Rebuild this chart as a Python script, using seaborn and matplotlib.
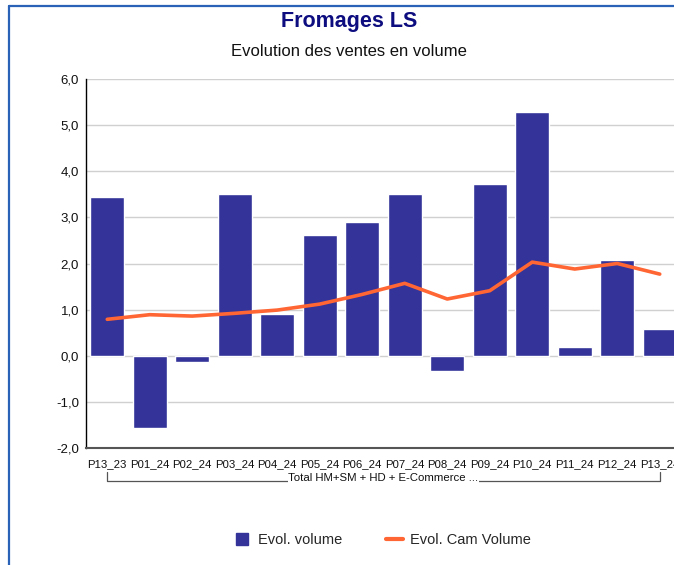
import matplotlib
matplotlib.use("Agg")
import matplotlib.pyplot as plt
import matplotlib.ticker as mtick
from matplotlib.lines import Line2D
import pandas as pd
import seaborn as sns

sns.set_theme(style="white")
plt.rcParams["font.family"] = ["Liberation Sans", "DejaVu Sans"]

# ── Data ──────────────────────────────────────────────────────────────────────
periods = ["P13_23", "P01_24", "P02_24", "P03_24", "P04_24", "P05_24", "P06_24",
           "P07_24", "P08_24", "P09_24", "P10_24", "P11_24", "P12_24", "P13_24"]
evol_volume = [3.44, -1.57, -0.14, 3.51, 0.91, 2.62, 2.89,
               3.51, -0.32, 3.72, 5.28, 0.19, 2.08, 0.58]
evol_cam = [0.79, 0.89, 0.86, 0.92, 0.99, 1.12, 1.33,
            1.57, 1.23, 1.41, 2.03, 1.88, 2.00, 1.77]
group_label = "Total HM+SM + HD + E-Commerce ..."

BAR_COLOR = "#333399"
LINE_COLOR = "#ff6633"

df = pd.DataFrame({"period": periods, "volume": evol_volume, "cam": evol_cam})

# ── Figure ────────────────────────────────────────────────────────────────────
fig = plt.figure(figsize=(6.74, 5.65), dpi=100)
ax = fig.add_axes([86 / 674, 117 / 565, 595 / 674, 369 / 565])

sns.barplot(data=df, x="period", y="volume", color=BAR_COLOR, width=0.8,
            saturation=1, ax=ax, zorder=2)
sns.lineplot(data=df, x="period", y="cam", color=LINE_COLOR, linewidth=2.6,
             sort=False, ax=ax, zorder=3)

ax.set_ylim(-2, 6)
ax.set_xlim(-0.5, 13.5)
ax.yaxis.set_major_locator(mtick.MultipleLocator(1))
ax.yaxis.set_major_formatter(mtick.FuncFormatter(lambda v, _: f"{v:.1f}".replace(".", ",")))
ax.grid(axis="y", color="#d0d0d0", linewidth=1, zorder=0)
ax.set_axisbelow(True)
ax.set_xlabel("")
ax.set_ylabel("")
ax.tick_params(axis="y", length=0, pad=5, labelsize=9.5, colors="#111111")
ax.tick_params(axis="x", length=0, pad=8, labelsize=8.2, colors="#111111")
for side in ("top", "right"):
    ax.spines[side].set_visible(False)
ax.spines["left"].set_color("black")
ax.spines["left"].set_linewidth(1)
ax.spines["bottom"].set_color("#555555")
ax.spines["bottom"].set_linewidth(1.5)

# group bracket under the period labels
tr = ax.get_xaxis_transform()
y_line, y_top = -0.09, -0.066
ax.plot([0, 0, 13, 13], [y_top, y_line, y_line, y_top], transform=tr,
        color="#555555", linewidth=0.9, clip_on=False)
ax.text(6.5, y_line + 0.008, group_label, transform=tr, ha="center", va="center",
        fontsize=8.2, color="#111111",
        bbox=dict(facecolor="white", edgecolor="none", pad=0.3))

# titles
fig.text(0.518, 1 - 22 / 565, "Fromages LS", ha="center", va="center",
         fontsize=15.5, fontweight="bold", color="#0d0d80")
fig.text(0.518, 1 - 52 / 565, "Evolution des ventes en volume", ha="center",
         va="center", fontsize=12, color="#111111")

# legend
handles = [
    Line2D([], [], marker="s", linestyle="none", markersize=9,
           markerfacecolor=BAR_COLOR, markeredgecolor=BAR_COLOR),
    Line2D([], [], color=LINE_COLOR, linewidth=3),
]
fig.legend(handles, ["Evol. volume", "Evol. Cam Volume"], loc="center",
           bbox_to_anchor=(382 / 674, 1 - 540 / 565), ncol=2, frameon=False,
           fontsize=10.5, handlelength=1.2, handletextpad=0.5, columnspacing=3.0)

# outer frame (left and top edges visible)
frame_kw = dict(color="#2a62b8", linewidth=1.6, transform=fig.transFigure)
fig.add_artist(Line2D([8.5 / 674, 8.5 / 674], [0, 1 - 5.5 / 565], **frame_kw))
fig.add_artist(Line2D([8.5 / 674, 1], [1 - 5.5 / 565, 1 - 5.5 / 565], **frame_kw))

fig.savefig("out.png", dpi=100)
